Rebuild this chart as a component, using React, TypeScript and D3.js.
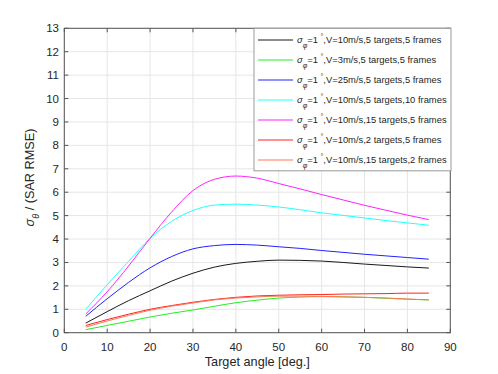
import React from "react";
import * as d3 from "d3";

const angles = [5, 10, 15, 20, 25, 30, 35, 40, 45, 50, 55, 60, 65, 70, 75, 80, 85];
const blackV10T5F5 = [0.41, 0.9, 1.37, 1.79, 2.2, 2.54, 2.8, 2.96, 3.05, 3.1, 3.09, 3.06, 3.0, 2.93, 2.87, 2.81, 2.76];
const greenV3T5F5 = [0.13, 0.31, 0.49, 0.67, 0.83, 0.97, 1.13, 1.28, 1.39, 1.48, 1.52, 1.54, 1.53, 1.51, 1.47, 1.43, 1.4];
const blueV25T5F5 = [0.7, 1.45, 2.15, 2.77, 3.25, 3.58, 3.72, 3.77, 3.74, 3.67, 3.6, 3.51, 3.43, 3.35, 3.28, 3.21, 3.14];
const cyanV10T5F10 = [1.0, 2.05, 3.05, 4.03, 4.75, 5.22, 5.45, 5.49, 5.45, 5.37, 5.25, 5.12, 5.01, 4.9, 4.79, 4.69, 4.59];
const magentaV10T15F5 = [0.8, 1.75, 2.85, 4.03, 5.15, 6.07, 6.55, 6.69, 6.6, 6.37, 6.14, 5.9, 5.67, 5.44, 5.23, 5.02, 4.83];
const redV10T2F5 = [0.31, 0.56, 0.79, 1.0, 1.16, 1.3, 1.42, 1.51, 1.57, 1.6, 1.62, 1.63, 1.65, 1.66, 1.67, 1.69, 1.69];
const orangeV10T15F2 = [0.24, 0.5, 0.74, 0.96, 1.13, 1.27, 1.4, 1.48, 1.53, 1.56, 1.56, 1.55, 1.53, 1.51, 1.48, 1.44, 1.4];

const seriesNames = [
  ",V=10m/s,5 targets,5 frames",
  ",V=3m/s,5 targets,5 frames",
  ",V=25m/s,5 targets,5 frames",
  ",V=10m/s,5 targets,10 frames",
  ",V=10m/s,15 targets,5 frames",
  ",V=10m/s,2 targets,5 frames",
  ",V=10m/s,15 targets,2 frames",
];
const seriesColors = ["#1a1a1a", "#22ee22", "#2222ff", "#22ffff", "#ff22ff", "#ff2222", "#ff7755"];
const seriesValues = [blackV10T5F5, greenV3T5F5, blueV25T5F5, cyanV10T5F10, magentaV10T15F5, redV10T2F5, orangeV10T15F2];

const xTicks = [0, 10, 20, 30, 40, 50, 60, 70, 80, 90];
const yTicks = [0, 1, 2, 3, 4, 5, 6, 7, 8, 9, 10, 11, 12, 13];

export default function App() {
  const W = 498, H = 374;
  const left = 64.3, right = 450.3, top = 28.3, bottom = 332.7;
  const x = d3.scaleLinear().domain([0, 90]).range([left, right]);
  const y = d3.scaleLinear().domain([0, 13]).range([bottom, top]);
  const line = d3.line<number>().x((_, i) => x(angles[i])).y((d) => y(d)).curve(d3.curveMonotoneX);
  const font = "'Liberation Sans', Arial, Helvetica, sans-serif";
  const txt = "#262626";
  const axisCol = "#555";
  const gridCol = "#e6e6e6";
  const tick = 4;

  const legX = 254, legY = 28.3, legW = 197, legH = 142.5;
  return (
    <svg width={W} height={H} style={{ position: "absolute", left: 0, top: 0, background: "#fff" }} fontFamily={font}>
      {xTicks.map((t) => (
        <line key={"gx" + t} x1={x(t)} x2={x(t)} y1={top} y2={bottom} stroke={gridCol} strokeWidth={1} />
      ))}
      {yTicks.map((t) => (
        <line key={"gy" + t} x1={left} x2={right} y1={y(t)} y2={y(t)} stroke={gridCol} strokeWidth={1} />
      ))}
      {seriesValues.map((vals, i) => (
        <path key={"s" + i} d={line(vals) || ""} fill="none" stroke={seriesColors[i]} strokeWidth={1} />
      ))}
      <rect x={left} y={top} width={right - left} height={bottom - top} fill="none" stroke={axisCol} strokeWidth={1} />
      {xTicks.map((t) => (
        <g key={"tx" + t}>
          <line x1={x(t)} x2={x(t)} y1={bottom} y2={bottom - tick} stroke={axisCol} />
          <line x1={x(t)} x2={x(t)} y1={top} y2={top + tick} stroke={axisCol} />
          <text x={x(t)} y={351} textAnchor="middle" fontSize={11.5} fill={txt}>{t}</text>
        </g>
      ))}
      {yTicks.map((t) => (
        <g key={"ty" + t}>
          <line x1={left} x2={left + tick} y1={y(t)} y2={y(t)} stroke={axisCol} />
          <line x1={right} x2={right - tick} y1={y(t)} y2={y(t)} stroke={axisCol} />
          <text x={59} y={y(t) + 4} textAnchor="end" fontSize={11.5} fill={txt}>{t}</text>
        </g>
      ))}
      <text x={(left + right) / 2} y={366} textAnchor="middle" fontSize={12.7} fill={txt}>Target angle [deg.]</text>
      <text transform={`translate(34, ${(top + bottom) / 2 - 3}) rotate(-90)`} textAnchor="middle" fontSize={12.7} fill={txt}>
        <tspan fontStyle="italic">σ</tspan>
        <tspan fontSize={9} dy={4.5} fontStyle="italic">θ</tspan>
        <tspan dy={-4.5}> / (SAR RMSE)</tspan>
      </text>
      <rect x={legX} y={legY} width={legW} height={legH} fill="#fff" stroke="#999" strokeWidth={1} />
      {seriesNames.map((name, i) => {
        const ly = 40 + i * 20;
        return (
          <g key={"l" + i}>
            <line x1={258} x2={293} y1={ly} y2={ly} stroke={seriesColors[i]} strokeWidth={1} />
            <text x={297} y={ly + 3.3} fontSize={9.4} fill={txt}>
              <tspan fontStyle="italic">σ</tspan>
              <tspan fontSize={7} dy={4.5} fontStyle="italic">φ</tspan>
              <tspan dy={-4.5}>=1 </tspan>
              <tspan fontSize={7} dy={-4}>°</tspan>
              <tspan dy={4}>{name}</tspan>
            </text>
          </g>
        );
      })}
    </svg>
  );
}
